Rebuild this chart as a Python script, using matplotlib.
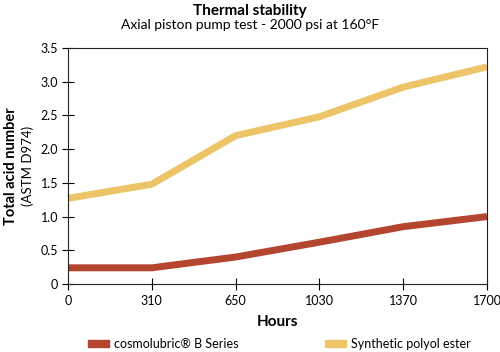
import matplotlib
matplotlib.use("Agg")
import matplotlib.pyplot as plt
from matplotlib.patches import Patch

plt.rcParams['font.family'] = ['Lato', 'DejaVu Sans']

hours = ["0", "310", "650", "1030", "1370", "1700"]
cosmolubric = [0.24, 0.24, 0.40, 0.62, 0.85, 1.00]
polyol = [1.27, 1.48, 2.20, 2.48, 2.92, 3.22]
yticks = [0, 0.5, 1.0, 1.5, 2.0, 2.5, 3.0, 3.5]
ylabels = ["0", "0.5", "1.0", "1.5", "2.0", "2.5", "3.0", "3.5"]

red = "#B4452F"
yellow = "#EDC467"

fig = plt.figure(figsize=(5.0, 3.52), dpi=100)
ax = fig.add_axes([68/500, 1-284/352, (487-68)/500, (284-48)/352])

x = list(range(len(hours)))
ax.plot(x, polyol, color=yellow, lw=5, solid_capstyle='butt', solid_joinstyle='round', clip_on=False)
ax.plot(x, cosmolubric, color=red, lw=5, solid_capstyle='butt', solid_joinstyle='round', clip_on=False)

ax.set_xlim(0, len(hours)-1)
ax.set_ylim(0, 3.5)
ax.set_xticks(x)
ax.set_xticklabels(hours, fontsize=9)
ax.set_yticks(yticks)
ax.set_yticklabels(ylabels, fontsize=9)
ax.tick_params(axis='x', direction='inout', length=8, width=0.8, pad=4)
ax.tick_params(axis='y', direction='inout', length=8, width=0.8, pad=3)
for s in ax.spines.values():
    s.set_linewidth(0.8)
    s.set_color("#222222")

ax.set_xlabel("Hours", fontsize=11, fontweight='bold', labelpad=6)
fig.text(4/500, 1-166/352, "Total acid number", rotation=90, fontsize=10.5, fontweight='bold', ha='left', va='center')
fig.text(21/500, 1-166/352, "(ASTM D974)", rotation=90, fontsize=9.5, ha='left', va='center')

fig.text(0.5, 1-11/352, "Thermal stability", fontsize=11, fontweight='bold', ha='center', va='center')
fig.text(0.5, 1-25/352, "Axial piston pump test - 2000 psi at 160°F", fontsize=10, ha='center', va='center')

handles = [Patch(color=red, label="cosmolubric® B Series"),
           Patch(color=yellow, label="Synthetic polyol ester")]
fig.legend(handles=handles, loc='center left', bbox_to_anchor=(88/500, 1-344/352), ncol=2,
           frameon=False, fontsize=9, handlelength=1.7, handleheight=0.55,
           columnspacing=6.9, handletextpad=0.4, borderpad=0, borderaxespad=0)

fig.savefig("out.png", dpi=100)
